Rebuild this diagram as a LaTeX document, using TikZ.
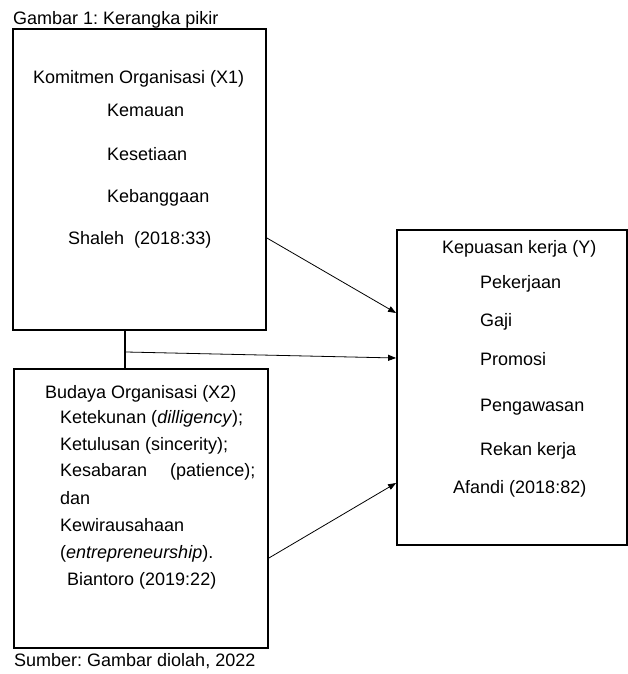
\documentclass[tikz,border=0pt]{standalone}
\usepackage{fontspec}
\setmainfont{Liberation Sans}
\frenchspacing
\usetikzlibrary{arrows.meta}

\tikzset{
  box/.style={draw, line width=1.8pt, rectangle, inner sep=0pt},
  lbl/.style={anchor=base west, inner sep=0pt, font=\fontsize{18pt}{22pt}\selectfont},
  link/.style={line width=1.2pt},
  arr/.style={line width=0.8pt, -{Triangle[length=8pt,width=6pt]}}
}

\begin{document}
\begin{tikzpicture}[x=1pt,y=-1pt]
\useasboundingbox (0,0) rectangle (628,674);
% boxes
\node[box, minimum width=253, minimum height=301] (x1) at (139.5,179.5) {};
\node[box, minimum width=254, minimum height=279] (x2) at (141.0,508.5) {};
\node[box, minimum width=230, minimum height=315] (y) at (512.0,387.5) {};
% captions
\node[lbl] (cap) at (13,25) {Gambar 1: Kerangka pikir};
\node[lbl] (src) at (14,666) {Sumber: Gambar diolah, 2022};
% komitmen organisasi
\node[lbl] (x1t) at (33,84) {Komitmen Organisasi (X1)};
\node[lbl] (x1a) at (107,117) {Kemauan};
\node[lbl] (x1b) at (107,160) {Kesetiaan};
\node[lbl] (x1c) at (107,202) {Kebanggaan};
\node[lbl] (x1s) at (68,244) {Shaleh\ \ (2018:33)};
% budaya organisasi
\node[lbl] (x2t) at (45,398) {Budaya Organisasi (X2)};
\node[lbl] (x2a) at (60,423) {Ketekunan (\textit{dilligency});};
\node[lbl] (x2b) at (60,450) {Ketulusan (sincerity);};
\node[lbl] (x2c) at (60,476) {Kesabaran\hspace{18pt} (patience);};
\node[lbl] (x2d) at (60,504) {dan};
\node[lbl] (x2e) at (60,531) {Kewirausahaan};
\node[lbl] (x2f) at (60,558) {(\textit{entrepreneurship}).};
\node[lbl] (x2s) at (67,585) {Biantoro (2019:22)};
% kepuasan kerja
\node[lbl] (yt) at (442,253) {Kepuasan kerja (Y)};
\node[lbl] (ya) at (480,288) {Pekerjaan};
\node[lbl] (yb) at (480,326) {Gaji};
\node[lbl] (yc) at (480,365) {Promosi};
\node[lbl] (yd) at (480,411) {Pengawasan};
\node[lbl] (ye) at (480,455) {Rekan kerja};
\node[lbl] (ys) at (453,493) {Afandi (2018:82)};
% connectors
\coordinate (v) at (125,0);
\coordinate (j) at (126,352);
\coordinate (h1) at (0,238);
\coordinate (h2) at (0,313);
\coordinate (h3) at (0,358);
\coordinate (h4) at (0,558);
\coordinate (h5) at (0,483);
\draw[link] (x1.south -| v) -- (x2.north -| v);
\draw[arr] (x1.east |- h1) -- (y.west |- h2);
\draw[arr] (j) -- (y.west |- h3);
\draw[arr] (x2.east |- h4) -- (y.west |- h5);
\end{tikzpicture}
\end{document}
